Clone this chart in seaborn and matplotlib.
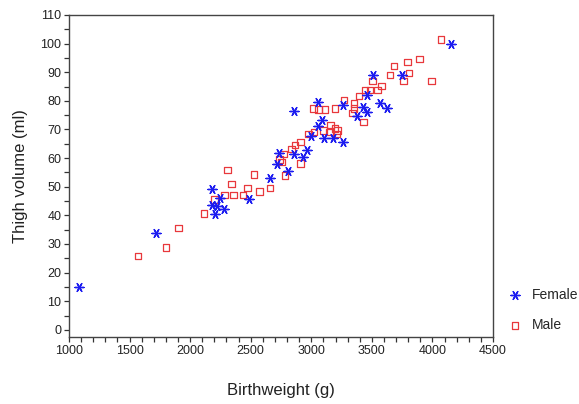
import matplotlib
matplotlib.use("Agg")
import matplotlib.pyplot as plt
from matplotlib.ticker import MultipleLocator
import seaborn as sns
import pandas as pd

female_bw = [1083, 1716, 2180, 2180, 2203, 2246, 2280, 2219, 2483, 2659, 2715, 2805,
             2736, 2855, 2962, 2934, 2995, 3105, 3182, 3259, 3086, 3058, 2857, 3058,
             3264, 3424, 3463, 3375, 3463, 3567, 3628, 3507, 3751, 4151]
female_tv = [15.0, 34.0, 49.1, 43.6, 40.4, 46.2, 42.1, 43.3, 45.6, 53.2, 57.8, 55.5,
             61.9, 61.3, 62.8, 60.5, 67.7, 66.9, 66.9, 65.7, 73.3, 71.2, 76.6, 79.7,
             78.6, 78.0, 76.2, 74.7, 82.0, 79.4, 77.4, 89.0, 89.0, 99.8]

male_bw = [1570, 1801, 1903, 2114, 2200, 2285, 2307, 2340, 2360, 2436, 2472, 2527,
           2571, 2659, 2783, 2769, 2736, 2756, 2913, 2838, 2866, 2913, 2975, 3022,
           3099, 3149, 3215, 3210, 3160, 3196, 3017, 3058, 3113, 3196, 3270, 3342,
           3353, 3353, 3430, 3394, 3443, 3485, 3545, 3507, 3581, 3650, 3683, 3760,
           3807, 3796, 3892, 3994, 4071]
male_tv = [25.8, 28.8, 35.6, 40.7, 45.6, 47.1, 55.8, 50.9, 47.1, 47.1, 49.5, 54.3,
           48.3, 49.5, 54.0, 61.4, 59.6, 58.7, 58.2, 63.1, 64.6, 65.7, 68.4, 69.2,
           69.6, 69.2, 69.6, 68.4, 71.6, 70.4, 77.4, 77.0, 77.0, 77.4, 80.3, 75.7,
           77.4, 79.1, 72.7, 81.7, 83.8, 83.8, 83.8, 87.0, 85.2, 89.0, 92.2, 86.9,
           89.8, 93.6, 94.7, 86.9, 101.5]

sex_labels = ["Female", "Male"]

sns.set_theme(style="white")
plt.rcParams['font.family'] = ['Liberation Sans', 'DejaVu Sans']

df_f = pd.DataFrame({"bw": female_bw, "tv": female_tv})
df_m = pd.DataFrame({"bw": male_bw, "tv": male_tv})

fig = plt.figure(figsize=(5.79, 4.04), dpi=100)
ax = fig.add_axes([69 / 579, 1 - 337 / 404, (493 - 69) / 579, (337 - 15) / 404])

sns.scatterplot(data=df_m, x="bw", y="tv", ax=ax, marker="s", s=22,
                facecolors="none", edgecolor="#e8383c", linewidth=0.9,
                label=sex_labels[1], zorder=3)
sns.scatterplot(data=df_f, x="bw", y="tv", ax=ax, marker=(6, 2, 90), s=42,
                color="#1c1cf0", linewidth=1.0, label=sex_labels[0], zorder=4)

ax.set_xlim(1000, 4500)
ax.xaxis.set_major_locator(MultipleLocator(500))
ax.xaxis.set_minor_locator(MultipleLocator(100))
ax.yaxis.set_major_locator(MultipleLocator(10))
ax.yaxis.set_minor_locator(MultipleLocator(5))
ax.set_yticks(range(0, 111, 10))
ax.set_ylim(-2.5, 110)
ax.tick_params(axis="both", which="both", direction="out", length=3.5, width=0.9,
               color="#333333", labelsize=9, labelcolor="#222222", pad=2,
               bottom=True, left=True, top=False, right=False)
for sp in ax.spines.values():
    sp.set_color("#444444")
    sp.set_linewidth(1.0)

ax.set_xlabel("Birthweight (g)", fontsize=12, labelpad=19, color="#222222")
ax.set_ylabel("Thigh volume (ml)", fontsize=12, labelpad=9, color="#222222")

handles, labels = ax.get_legend_handles_labels()
order = [labels.index("Female"), labels.index("Male")]
ax.legend([handles[i] for i in order], [labels[i] for i in order],
          loc="center left", bbox_to_anchor=(1.0, 0.084), frameon=False,
          fontsize=10, labelspacing=1.2, handletextpad=0.6, handlelength=1.2,
          borderaxespad=0.6)

fig.savefig("out.png", dpi=100)
